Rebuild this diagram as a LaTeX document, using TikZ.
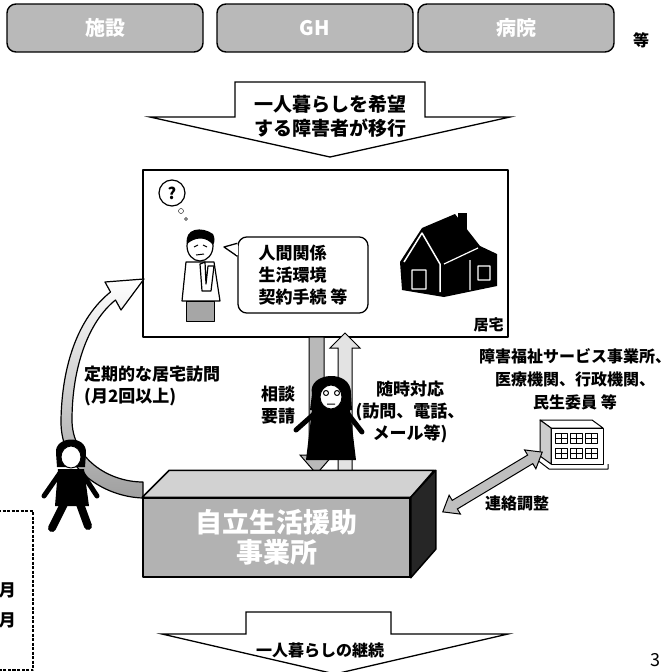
\documentclass[tikz,border=0pt]{standalone}
\usepackage{fontspec}
\usetikzlibrary{positioning,calc}
\newfontfamily\jp{Noto Sans CJK JP}

\begin{document}
\begin{tikzpicture}[x=1pt,y=-1pt,line join=round,
  txt/.style={font=\jp\bfseries\fontsize{17}{22}\selectfont,inner sep=0pt,align=center},
  place/.style={draw,line width=1.4pt,rounded corners=9pt,fill=gray!55,minimum width=196pt,minimum height=48pt,text=white,font=\jp\bfseries\fontsize{20}{20}\selectfont},
  flowarrow/.style={draw,line width=1.3pt,fill=white,line join=miter},
  pipe/.style={draw,line width=1pt,line join=miter},
  limb/.style={line width=5pt,line cap=round}]
\useasboundingbox (0,0) rectangle (670,672);

% where people move from
\node[place] (shisetsu) at (105,28) {施設};
\node[place] (gh) at (315,28) {GH};
\node[place] (byoin) at (516,28) {病院};
\node[txt,font=\jp\bfseries\fontsize{16}{16}\selectfont] (tou) at (641,40) {等};

% move into own home
\draw[flowarrow] (235,82) -- (425,82) -- (425,117) -- (510,117) -- (330,157) -- (150,117) -- (235,117) -- cycle;
\node[txt,font=\jp\bfseries\fontsize{19}{24}\selectfont] (move) at (330,116) {一人暮らしを希望\\する障害者が移行};

% home
\node[draw,line width=1.4pt,minimum width=365pt,minimum height=167pt,inner sep=0pt] (home) at (325.5,253.5) {};
\node[txt,anchor=south east,font=\jp\bfseries\fontsize{15}{15}\selectfont] (kyotaku) at ($(home.south east)+(-5,-6)$) {居宅};

% worried tenant
\draw[line width=1.2pt,fill=white] (172,193) circle[radius=13];
\node[txt,font=\jp\bfseries\fontsize{16}{16}\selectfont] (what) at (172,193) {?};
\draw[fill=white] (181,211) circle[radius=2.5] (186,219) circle[radius=1.5];
\draw[line width=1.2pt,fill=white] (200,246) ellipse[x radius=13,y radius=15];
\fill (187,244) .. controls (184,228) and (202,226) .. (213,234) .. controls (215,238) and (215,242) .. (213,245) .. controls (206,236) and (195,237) .. (187,244) -- cycle;
\draw[line width=1pt] (194,247) -- (198,245) (203,245) -- (207,247) (196,255) -- (204,254);
\draw[line width=1.2pt,fill=white] (186,262) -- (214,262) -- (220,301) -- (182,301) -- cycle;
\draw[line width=1.2pt,fill=white] (214,266) -- (211,291) -- (202,291) -- (200,264) -- (205,262) -- (206,284) -- (208,266) -- cycle;
\filldraw[fill=gray!70,line width=1pt] (186,301) rectangle (214,321);

% worries
\node[draw,line width=1.3pt,rounded corners=9pt,fill=white,txt,align=left,inner sep=8pt,minimum width=130pt,minimum height=76pt] (talk) at (303,275) {人間関係\\生活環境\\契約手続\ 等};
\filldraw[fill=white,line width=1.3pt] ($(talk.north west)+(0,7)$) -- (224,247) -- ($(talk.north west)+(0,20)$);
\draw[white,line width=2pt] ($(talk.north west)+(0,8.5)$) -- ($(talk.north west)+(0,18.5)$);

% house
\fill (400,262) -- (422,228) -- (455,214) -- (480,246) -- (497,254) -- (497,286) -- (444,297) -- (402,290) -- cycle;
\fill (458,213) rectangle (467,236);
\draw[white,line width=1.5pt] (404,262) -- (422,233) -- (440,264) -- (440,292);
\draw[white,line width=1.2pt] (444,264) -- (478,248) (412,270) rectangle (426,289) (470,260) -- (470,290) (478,266) rectangle (490,280);

% contact with office
\draw[pipe,fill=gray!55] (309,337) -- (324,337) -- (324,455) -- (333,455) -- (316.5,474) -- (300,455) -- (309,455) -- cycle;
\draw[pipe,fill=gray!22] (338,472) -- (338,348) -- (330,348) -- (345,333) -- (360,348) -- (352,348) -- (352,472) -- cycle;
\node[txt] (ask) at (278,405) {相談\\要請};
\node[txt] (reply) at (410,412) {随時対応\\(訪問、電話、\\メール等)};

% staff member between the arrows
\fill (312,394) .. controls (307,372) and (352,368) .. (351,394) -- (352,410) -- (310,410) -- cycle;
\draw[fill=white,line width=1pt] (331,397) ellipse[x radius=11,y radius=12];
\draw[line width=1pt] (326,393) circle[radius=2.5] (337,393) circle[radius=2.5] (327,404) -- (335,404);
\fill (312,410) -- (350,410) -- (356,460) -- (306,460) -- cycle;
\draw[limb] (314,414) -- (296,430) (348,414) -- (362,432);

% regular home visits
\shadedraw[top color=white,middle color=white,bottom color=gray!75,line width=1.2pt]
  (143,498) .. controls (105,497) and (60,470) .. (61,420) .. controls (62,365) and (78,318) .. (110.5,292)
  -- (105,282) -- (144,279) -- (121,310) -- (115.5,300)
  .. controls (88,322) and (72,368) .. (72,420) .. controls (72,458) and (108,482) .. (143,482) -- cycle;
\node[txt,align=left,anchor=west] (visit) at (84,386) {定期的な居宅訪問\\(月2回以上)};

% staff member walking
\fill (56,453) .. controls (54,436) and (87,434) .. (86,453) -- (85,467) -- (57,467) -- cycle;
\draw[fill=white,line width=1pt] (71,457) ellipse[x radius=10,y radius=11];
\fill (58,469) -- (84,469) -- (89,506) -- (55,506) -- cycle;
\draw[limb] (60,473) -- (44,496) (82,473) -- (97,496);
\draw[limb,line width=8pt] (64,504) -- (52,528) (80,504) -- (88,526);

% support office
\node[draw,line width=1.5pt,fill=gray!60,minimum width=267pt,minimum height=79pt,text=white,font=\jp\bfseries\fontsize{27}{30}\selectfont,align=center] (office) at (276.5,537.5) {自立生活援助\\事業所};
\filldraw[line width=1.5pt,fill=gray!35] (office.north west) -- ++(27,-27) -- ++(265,0) -- (office.north east) -- cycle;
\filldraw[line width=1.5pt,fill=black!85] (office.north east) -- ++(25,-27) -- ++(0,79) -- (office.south east) -- cycle;

% partner agencies
\node[txt,font=\jp\bfseries\fontsize{16}{23}\selectfont] (orgs) at (575,379) {障害福祉サービス事業所、\\医療機関、行政機関、\\民生委員 等};
\node[minimum width=70pt,minimum height=58pt] (bldg) at (573,442) {};
\begin{scope}[shift={(bldg.center)},line width=1pt]
  \draw[fill=white] (-33,-22) -- (19,-22) -- (30,-14) -- (-22,-14) -- cycle;
  \draw[fill=white] (-22,-14) rectangle (30,22);
  \draw[fill=gray!40] (-33,-22) -- (-22,-14) -- (-22,22) -- (-33,14) -- cycle;
  \foreach \wx in {-18,-3,12}{
    \foreach \wy in {-9,6}{
      \draw (\wx,\wy) rectangle ++(12,10) (\wx+6,\wy) -- ++(0,10) (\wx,\wy+5) -- ++(12,0);
    }
  }
  \draw (-37,17) -- (-24,27) -- (35,27) -- (35,22);
\end{scope}

% liaison arrow
\coordinate (linkA) at (443,512);
\coordinate (linkB) at (542,452);
\begin{scope}[shift={($(linkA)!.5!(linkB)$)},rotate=31]
  \draw[pipe,fill=gray!50] (-58,0) -- (-44,-11) -- (-44,-5) -- (44,-5) -- (44,-11) -- (58,0) -- (44,11) -- (44,5) -- (-44,5) -- (-44,11) -- cycle;
\end{scope}
\node[txt,font=\jp\bfseries\fontsize{16}{16}\selectfont] (liaison) at (517,503) {連絡調整};

% side note box
\draw[dash pattern=on 3pt off 1.5pt,line width=1.4pt] (-2,511) -- (33,511) -- (33,670) -- (-2,670);
\node[txt,anchor=east] (m1) at (16,590) {月};
\node[txt,anchor=east] (m2) at (16,620) {月};

% living alone continues
\draw[flowarrow] (246,612) -- (391,612) -- (391,634) -- (508,634) -- (335,674) -- (162,634) -- (246,634) -- cycle;
\node[txt,font=\jp\bfseries\fontsize{16}{16}\selectfont] (keep) at (320,650) {一人暮らしの継続};

\node[txt,font=\jp\fontsize{18}{18}\selectfont] (page) at (655,660) {3};
\end{tikzpicture}
\end{document}
